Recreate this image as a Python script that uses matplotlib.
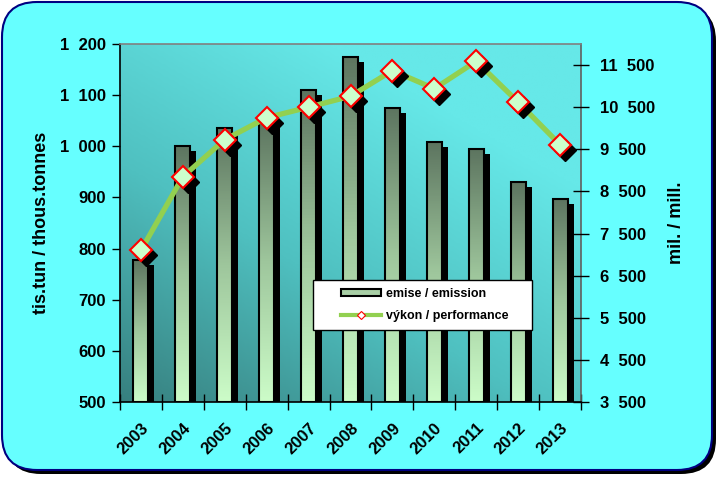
import numpy as np
import matplotlib
matplotlib.use('Agg')
import matplotlib.pyplot as plt
from matplotlib.patches import FancyBboxPatch, Patch, Rectangle
from matplotlib.lines import Line2D
from matplotlib.colors import LinearSegmentedColormap
from matplotlib import transforms

plt.rcParams['font.family'] = ['Liberation Sans', 'DejaVu Sans']
plt.rcParams['font.weight'] = 'bold'

###############################################################################
## Data
###############################################################################
years = ['2003', '2004', '2005', '2006', '2007', '2008',
         '2009', '2010', '2011', '2012', '2013']
emise = [778, 1000, 1035, 1050, 1110, 1175, 1075, 1009, 995, 931, 897]       # tis. tun
vykon = [7100, 8850, 9730, 10250, 10500, 10760, 11370, 10940, 11590, 10620, 9610]  # mil.

left_ticks = [500, 600, 700, 800, 900, 1000, 1100, 1200]
right_ticks = [3500, 4500, 5500, 6500, 7500, 8500, 9500, 10500, 11500]

def fmt(v):
    return '{:,}'.format(v).replace(',', '  ')

###############################################################################
fig = plt.figure(figsize=(7.2, 4.78), dpi=100)
fig.patch.set_facecolor('white')

# rounded cyan background with shadow
shadow = FancyBboxPatch((0.06, 0.04), 7.1, 4.68, boxstyle='round,pad=0,rounding_size=0.35',
                        transform=fig.dpi_scale_trans, facecolor='black', edgecolor='none', zorder=-10)
frame = FancyBboxPatch((0.02, 0.08), 7.1, 4.68, boxstyle='round,pad=0,rounding_size=0.35',
                       transform=fig.dpi_scale_trans, facecolor='#66ffff', edgecolor='#000080',
                       linewidth=1.5, zorder=-9)
fig.patches.extend([shadow, frame])

ax = fig.add_axes([120/720, 1 - 402/478, 461/720, 358/478])
ax.set_facecolor('none')
x = np.arange(len(years))

# plot area gradient (dark bottom-left -> light top-right)
gx, gy = np.meshgrid(np.linspace(0, 1, 200), np.linspace(0, 1, 200))
g = np.clip(0.55 * gx + 0.75 * gy, 0, 1)
bg_cmap = LinearSegmentedColormap.from_list('bg', ['#37807f', '#4fc0c0', '#66e8e8'])
ax.imshow(g, extent=(0, 1, 0, 1), transform=ax.transAxes, cmap=bg_cmap,
          origin='lower', aspect='auto', zorder=0)

# bars: shadow, gradient, outline
w = 0.36
shadow_tr = transforms.offset_copy(ax.transData, fig=fig, x=6, y=-5, units='dots')
ax.bar(x, np.array(emise) - 500, bottom=500, width=w, color='black', transform=shadow_tr, zorder=2)
bar_cmap = LinearSegmentedColormap.from_list('bar', ['#ccfcc8', '#9ec69c', '#5d7560'])
grad = np.linspace(0, 1, 100).reshape(-1, 1)
for xi, v in zip(x, emise):
    ax.imshow(grad, extent=(xi - w/2, xi + w/2, 500, v), cmap=bar_cmap,
              origin='lower', aspect='auto', zorder=3)
ax.bar(x, np.array(emise) - 500, bottom=500, width=w, facecolor='none',
       edgecolor='black', linewidth=1.5, zorder=4)

ax.set_xlim(-0.5, len(years) - 0.5)
ax.set_ylim(500, 1200)
ax.set_yticks(left_ticks)
ax.set_yticklabels([fmt(t) for t in left_ticks], fontsize=12, fontweight='bold')
ax.tick_params(axis='y', direction='out', length=6, width=1, pad=4)

ax.set_xticks(np.arange(len(years) + 1) - 0.5)
ax.set_xticklabels([])
ax.tick_params(axis='x', which='major', direction='inout', length=12, width=1)
ax.set_xticks(x, minor=True)
ax.set_xticklabels(years, minor=True, rotation=45, ha='right', va='top',
                   rotation_mode='anchor', fontsize=12, fontweight='bold')
ax.tick_params(axis='x', which='minor', length=0, pad=13)

ax.spines['top'].set_color('#808080')
ax.spines['right'].set_color('#606060')
for s in ax.spines.values():
    s.set_linewidth(1.2)
ax.set_ylabel('tis.tun / thous.tonnes', fontsize=13, fontweight='bold', labelpad=7)

# line on the right axis
ax2 = ax.twinx()
ax2.set_ylim(3500, 12000)
ax2.set_yticks(right_ticks)
ax2.set_yticklabels([fmt(t) for t in right_ticks], fontsize=12, fontweight='bold')
ax2.tick_params(axis='y', direction='inout', length=12, width=1, pad=8)
ax2.plot(x, vykon, color='#92d050', linewidth=3.8, zorder=5)
mshadow_tr = transforms.offset_copy(ax2.transData, fig=fig, x=5, y=-5, units='dots')
ax2.plot(x, vykon, linestyle='none', marker='D', markersize=11, color='black',
         transform=mshadow_tr, zorder=6)
ax2.plot(x, vykon, linestyle='none', marker='D', markersize=11, markerfacecolor='#ccffcc',
         markeredgecolor='red', markeredgewidth=1.5, zorder=7)
ax2.set_ylabel('mil. / mill.', fontsize=13, fontweight='bold', labelpad=9)
for s in ax2.spines.values():
    s.set_visible(False)

# legend box and entries
ax2.add_patch(Rectangle((0.4187, 0.201), 0.475, 0.1397, transform=ax2.transAxes,
                        facecolor='white', edgecolor='black', linewidth=1, zorder=19))
handles = [Patch(facecolor='#a9cfa6', edgecolor='black', linewidth=1.5),
           Line2D([], [], color='#92d050', linewidth=3, marker='D', markersize=4,
                  markerfacecolor='white', markeredgecolor='red', markeredgewidth=0.8)]
leg = ax2.legend(handles, ['emise / emission', 'výkon / performance'],
                 loc='center left', bbox_to_anchor=((341 - 120) / 461, (402 - 305) / 358),
                 frameon=False, handlelength=3.2, handleheight=0.55, handletextpad=0.4,
                 borderpad=0, borderaxespad=0, labelspacing=0.85,
                 prop={'weight': 'bold', 'size': 9})
leg.set_zorder(20)

plt.savefig('out.png', dpi=100)
